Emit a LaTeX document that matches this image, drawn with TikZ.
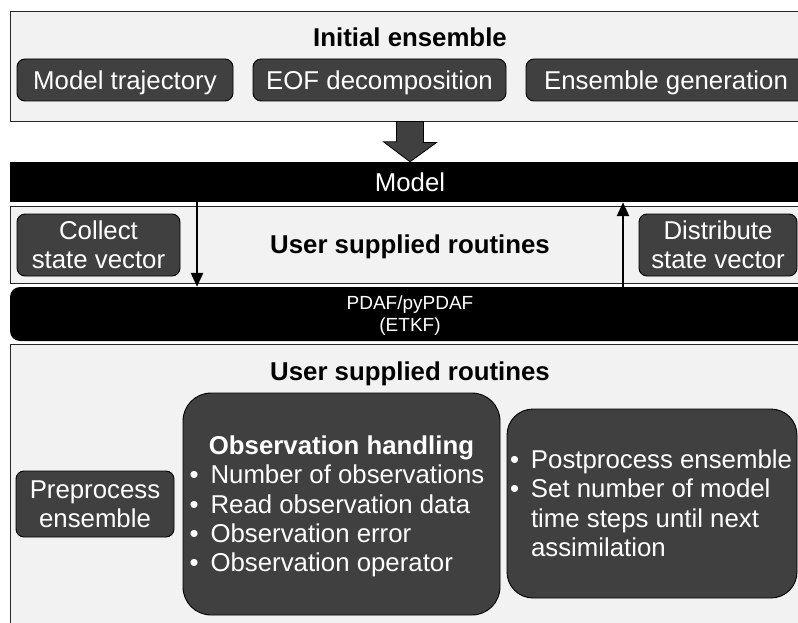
\documentclass[tikz,border=0pt]{standalone}
\usepackage{fontspec}
\setmainfont{Liberation Sans}
\usetikzlibrary{arrows.meta,calc}
\definecolor{darkfill}{HTML}{404040}
\definecolor{lightfill}{HTML}{F2F2F2}
\newcommand\bigtxt{\fontsize{25.8}{29.3}\selectfont}
\newcommand\smalltxt{\fontsize{19}{20.5}\selectfont}
\newcommand\ls{\rule[-5.6pt]{0pt}{29.3pt}}
\newcommand\lss{\rule[-3.9pt]{0pt}{20.5pt}}
\newcommand\bitem{\makebox[21pt][l]{•}}
\newcommand\bskip{\hspace*{21pt}}
\begin{document}
\begin{tikzpicture}[x=1pt,y=-1pt,
  panel/.style={draw=black!85, line width=0.9pt, fill=lightfill, inner sep=0pt},
  darkbox/.style={draw=black, line width=0.9pt, fill=darkfill, text=white,
    rounded corners=8pt, inner sep=0pt, align=center, font=\bigtxt},
  bigbox/.style={draw=black, line width=0.9pt, fill=darkfill, inner sep=0pt,
    rounded corners=28pt},
  bar/.style={fill=black, text=white, inner sep=0pt, align=center},
  titletxt/.style={inner sep=0pt, font=\bigtxt\bfseries, text=black},
  listtxt/.style={inner sep=0pt, font=\bigtxt, text=white, align=left},
  conn/.style={line width=2.4pt, -{Triangle[width=12pt,length=14pt]}},
  fatarrow/.style={fill=darkfill, draw=black, line width=0.8pt, line join=miter}
]
\useasboundingbox (0,0) rectangle (798,623);
\fill[white] (0,0) rectangle (798,623);
\clip (0,0) rectangle (798,623);

% top panel
\node[panel, minimum width=800pt, minimum height=109.5pt] (init) at (410,66.35) {};
\node[titletxt] (initt) at (410,37.8) {\ls Initial ensemble};
\node[darkbox, minimum width=216pt, minimum height=42pt] (mtraj) at (125,80) {\ls Model trajectory};
\node[darkbox, minimum width=253pt, minimum height=42pt] (eof) at (379.5,80) {\ls EOF decomposition};
\node[darkbox, minimum width=280pt, minimum height=42pt] (ens) at (666,80) {\ls Ensemble generation};

% model bar
\node[bar, font=\bigtxt, minimum width=800pt, minimum height=40pt] (model) at (410,182) {\ls Model};

% fat arrow
\draw[fatarrow] ($(init.south)+(-13.5,0)$) -- ++(27,0) -- ++(0,21) -- ++(13,0)
  -- (model.north) -- ++(-26.5,-20) -- ++(13,0) -- cycle;

% middle panel
\node[panel, minimum width=800pt, minimum height=76.5pt] (mid) at (410,244.75) {};
\node[titletxt] (midt) at (410,244.75) {\ls User supplied routines};
\node[darkbox, minimum width=163pt, minimum height=62pt] (collect) at (98.5,245) {\ls Collect\\\ls state vector};
\node[darkbox, minimum width=158pt, minimum height=62pt] (distr) at (718,245) {\ls Distribute\\\ls state vector};

% PDAF bar
\node[bar, font=\smalltxt, rounded corners=10pt, minimum width=800pt, minimum height=54pt] (pdaf) at (410,314) {\lss PDAF/pyPDAF\\\lss (ETKF)};

% arrows between model and PDAF
\coordinate (xd) at (197,0);
\coordinate (xu) at (623,0);
\draw[conn] (model.south -| xd) -- (pdaf.north -| xd);
\draw[conn] (pdaf.north -| xu) -- (model.south -| xu);

% bottom panel
\node[panel, minimum width=800pt, minimum height=296pt] (bot) at (410,492) {};
\node[titletxt] (bott) at (410,371) {\ls User supplied routines};
\node[darkbox, minimum width=158pt, minimum height=66pt] (prep) at (95,504) {\ls Preprocess\\\ls ensemble};

\node[bigbox, minimum width=317pt, minimum height=222pt] (obs) at (341.5,504) {};
\node[titletxt, text=white] (obst) at (341.5,445.4) {\ls Observation handling};
\node[listtxt] (obsl) at (337,518.65) {\bitem Number of observations\ls\\
  \bitem Read observation data\ls\\
  \bitem Observation error\ls\\
  \bitem Observation operator\ls};

\node[bigbox, rounded corners=26pt, minimum width=290pt, minimum height=189pt] (post) at (652,503.5) {};
\node[listtxt] (postl) at (651,503.5) {\bitem Postprocess ensemble\ls\\
  \bitem Set number of model\ls\\
  \bskip time steps until next\ls\\
  \bskip assimilation\ls};
\end{tikzpicture}
\end{document}
